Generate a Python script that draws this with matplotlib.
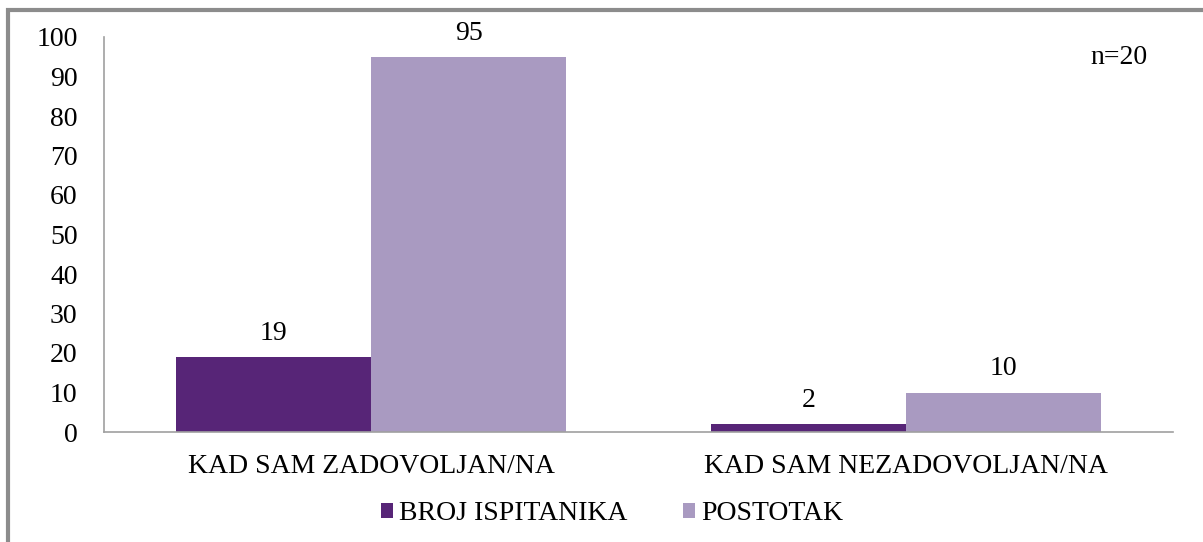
import matplotlib.pyplot as plt
import numpy as np
from matplotlib.patches import Rectangle

categories = ['KAD SAM ZADOVOLJAN/NA', 'KAD SAM NEZADOVOLJAN/NA']
broj = [19, 2]
postotak = [95, 10]
series_names = ['BROJ ISPITANIKA', 'POSTOTAK']

plt.rcParams['font.family'] = ['Liberation Serif', 'DejaVu Serif']

fig = plt.figure(figsize=(12.03, 5.42), dpi=100)
ax = fig.add_axes([104/1203, 1-432/542, 1069/1203, 395/542])

x = np.arange(len(categories))
w = 0.365
b1 = ax.bar(x - w/2, broj, w, color='#572577', label=series_names[0])
b2 = ax.bar(x + w/2, postotak, w, color='#a99ac1', label=series_names[1])

for bars, vals in ((b1, broj), (b2, postotak)):
    for r, v in zip(bars, vals):
        ax.annotate(str(v), (r.get_x() + r.get_width()/2, v), xytext=(0, 17),
                    textcoords='offset points', ha='center', va='center', fontsize=20)

ax.set_xlim(-0.5, 1.5)
ax.set_ylim(0, 100)
ax.set_yticks(range(0, 101, 10))
ax.set_xticks(x)
ax.set_xticklabels(categories)
ax.tick_params(axis='both', length=0, labelsize=20)
ax.tick_params(axis='y', pad=19)
ax.tick_params(axis='x', pad=16)
for s in ('top', 'right'):
    ax.spines[s].set_visible(False)
for s in ('left', 'bottom'):
    ax.spines[s].set_color('#a0a0a0')
    ax.spines[s].set_linewidth(1.2)

ax.text(0.949, 0.949, 'n=20', transform=ax.transAxes, ha='center', va='center', fontsize=20)

fig.legend(loc='center', bbox_to_anchor=(612/1203, 1-514/542), ncol=2, frameon=False,
           fontsize=20, handlelength=0.45, handleheight=0.45, handletextpad=0.2, columnspacing=2)

fig.patches.append(Rectangle((8/1203, -0.1), 1.2, 1.1 - 10/542, transform=fig.transFigure,
                             fill=False, edgecolor='#8c8c8c', linewidth=3))

fig.savefig('out.png', dpi=100)
